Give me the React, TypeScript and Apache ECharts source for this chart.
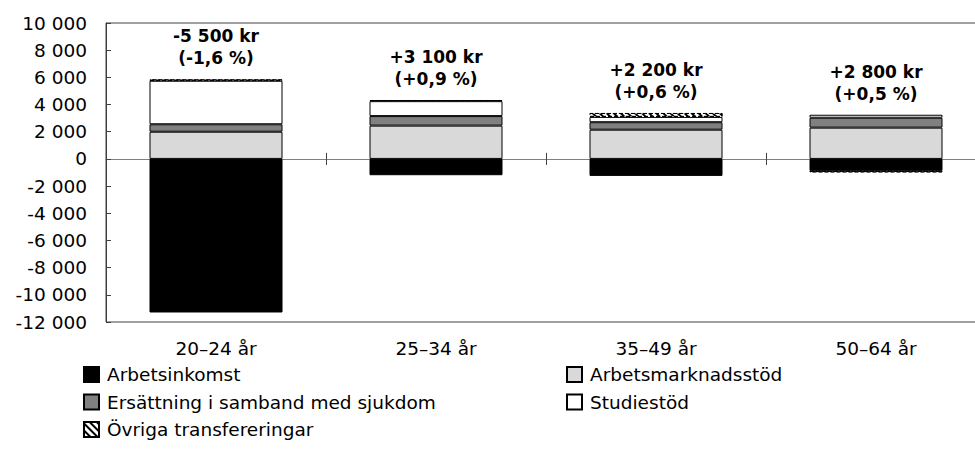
import React, { useEffect, useRef } from "react";
import * as echarts from "echarts";

const categories = ["20–24 år", "25–34 år", "35–49 år", "50–64 år"];
const arbetsinkomst = [-11300, -1200, -1250, -880];
const arbetsmarknadsstod = [2000, 2450, 2150, 2300];
const ersattning = [550, 700, 550, 730];
const studiestod = [3200, 1100, 390, 220];
const ovriga = [100, 80, 290, -110];
const changeKr = ["-5 500 kr", "+3 100 kr", "+2 200 kr", "+2 800 kr"];
const changePct = ["(-1,6 %)", "(+0,9 %)", "(+0,6 %)", "(+0,5 %)"];
const yMin = -12000;
const yMax = 10000;
const yInterval = 2000;

const names = [
  "Arbetsinkomst",
  "Arbetsmarknadsstöd",
  "Ersättning i samband med sjukdom",
  "Studiestöd",
  "Övriga transfereringar",
];

const FONT = "'DejaVu Sans', sans-serif";

function fmt(v: number): string {
  const s = String(Math.abs(v)).replace(/\B(?=(\d{3})+(?!\d))/g, " ");
  return (v < 0 ? "-" : "") + s;
}

export default function App() {
  const ref = useRef<HTMLDivElement>(null);
  useEffect(() => {
    document.body.style.margin = "0";
    document.body.style.overflow = "hidden";
    if (!ref.current) return;
    const chart = echarts.init(ref.current, undefined, { renderer: "svg" });
    const seriesData = [arbetsinkomst, arbetsmarknadsstod, ersattning, studiestod, ovriga];
    const fills = ["#000000", "#d9d9d9", "#808080", "#ffffff", "#ffffff"];
    const tops = categories.map((_, i) =>
      seriesData.reduce((acc, arr) => acc + (arr[i] > 0 ? arr[i] : 0), 0)
    );
    const hatch = {
      symbol: "rect",
      symbolSize: 1,
      color: "#000",
      dashArrayX: [1, 0],
      dashArrayY: [2, 3],
      rotation: Math.PI / 4,
    };
    const barSeries = names.map((name, k) => ({
      name,
      type: "bar",
      stack: "total",
      barWidth: 133,
      xAxisIndex: 0,
      yAxisIndex: 0,
      data: seriesData[k],
      itemStyle: {
        color: fills[k],
        borderColor: "#000",
        borderWidth: 1,
        ...(k === 4 ? { decal: hatch, borderType: "dashed" } : {}),
      },
    }));
    const xBase = {
      type: "category",
      data: categories,
      gridIndex: 0,
      boundaryGap: true,
      splitLine: { show: false },
    };
    const legendText = { fontSize: 18.5, color: "#000", fontFamily: FONT, padding: [0, 0, 0, 3] };
    chart.setOption({
      animation: false,
      textStyle: { fontFamily: FONT },
      grid: {
        left: 106,
        top: 23,
        width: 880,
        bottom: 131,
        show: true,
        borderColor: "#404040",
        borderWidth: 1,
        containLabel: false,
        outerBoundsMode: "none",
      },
      legend: [
        {
          orient: "vertical",
          left: 78,
          top: 360,
          icon: "rect",
          itemWidth: 15,
          itemHeight: 15,
          itemGap: 8.5,
          data: [names[0], names[2], names[4]],
          textStyle: legendText,
        },
        {
          orient: "vertical",
          left: 561,
          top: 360,
          icon: "rect",
          itemWidth: 15,
          itemHeight: 15,
          itemGap: 8.5,
          data: [names[1], names[3]],
          textStyle: legendText,
        },
      ],
      xAxis: [
        {
          ...xBase,
          position: "bottom",
          axisLine: { show: false, onZero: false },
          axisTick: { show: false },
          axisLabel: { margin: 17, fontSize: 18.5, color: "#000", fontFamily: FONT },
        },
        {
          ...xBase,
          position: "bottom",
          axisLine: { show: true, onZero: true, onZeroAxisIndex: 0, lineStyle: { color: "#808080", width: 1 } },
          axisTick: { show: true, length: 6, lineStyle: { color: "#404040" } },
          axisLabel: { show: false },
        },
        {
          ...xBase,
          position: "top",
          axisLine: { show: true, onZero: true, onZeroAxisIndex: 1, lineStyle: { color: "#808080", width: 1 } },
          axisTick: { show: true, inside: false, length: 6, lineStyle: { color: "#404040" } },
          axisLabel: { show: false },
        },
      ],
      yAxis: [
        {
          type: "value",
          min: yMin,
          max: yMax,
          interval: yInterval,
          position: "left",
          axisLine: { show: true, lineStyle: { color: "#404040" } },
          axisTick: { show: true, inside: true, length: 5, lineStyle: { color: "#404040" } },
          splitLine: { show: false },
          axisLabel: {
            margin: 19,
            fontSize: 18.5,
            color: "#000",
            fontFamily: FONT,
            formatter: (v: number) => fmt(v),
          },
        },
        {
          type: "value",
          min: yMin,
          max: yMax,
          interval: yInterval,
          position: "right",
          show: false,
          axisLine: { show: false },
          splitLine: { show: false },
        },
      ],
      series: [
        ...barSeries,
        {
          name: "labels",
          type: "scatter",
          xAxisIndex: 0,
          yAxisIndex: 0,
          symbolSize: 0,
          silent: true,
          itemStyle: { color: "#000" },
          data: tops,
          label: {
            show: true,
            position: "top",
            distance: 10,
            formatter: (p: any) => `${changeKr[p.dataIndex]}\n${changePct[p.dataIndex]}`,
            fontSize: 17,
            fontWeight: "bold",
            lineHeight: 22,
            color: "#000",
            opacity: 1,
            fontFamily: FONT,
          },
        },
      ],
    });
    return () => chart.dispose();
  }, []);
  return (
    <div style={{ width: 975, height: 453, overflow: "hidden" }}>
      <div ref={ref} style={{ width: 975, height: 453 }} />
    </div>
  );
}
